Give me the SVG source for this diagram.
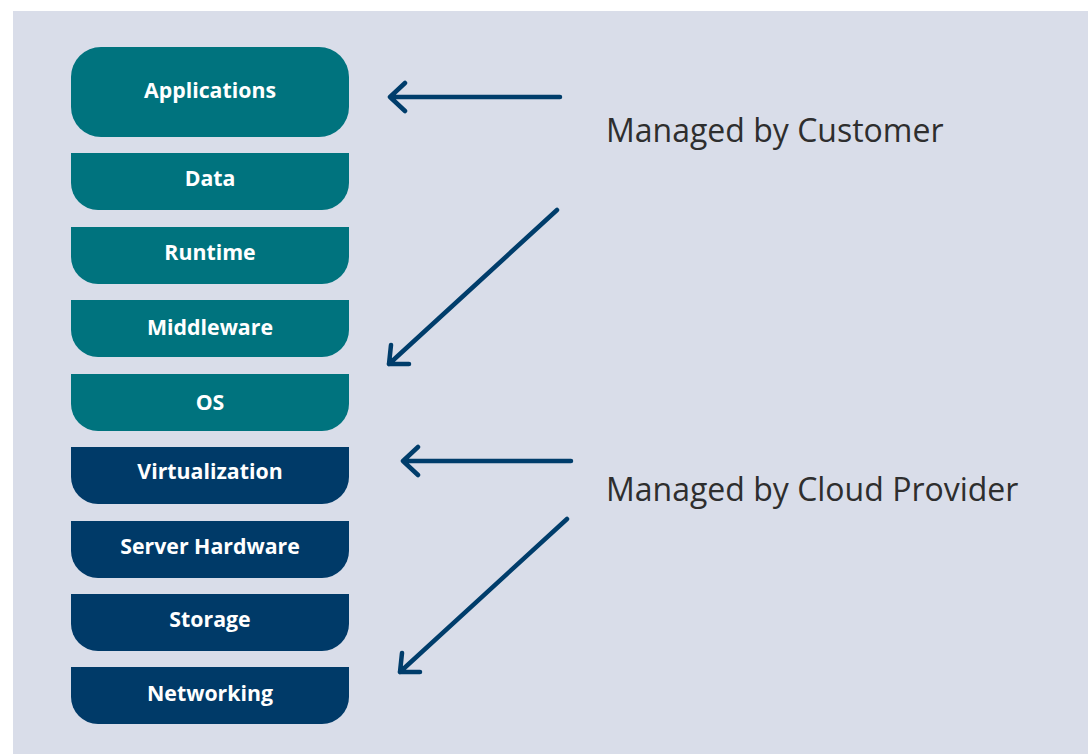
<svg xmlns="http://www.w3.org/2000/svg" width="1088" height="754" viewBox="0 0 1088 754">
  <style>
    .teal { fill: #00737e; }
    .navy { fill: #003a68; }
    .lbl { font-family: "Open Sans", "Noto Sans", sans-serif; font-weight: 700; font-size: 21.3px; fill: #ffffff; text-anchor: middle; }
    .note { font-family: "Open Sans", "Noto Sans", sans-serif; font-size: 32px; fill: #2e2e2e; }
    .arrow { fill: none; stroke: #003d6b; stroke-width: 4.5; stroke-linecap: round; stroke-linejoin: round; }
  </style>
  <rect x="0" y="0" width="1088" height="754" fill="#ffffff"/>
  <rect x="13" y="11" width="1075" height="743" fill="#d9dde9"/>

  <g id="applications">
    <rect class="teal" x="71" y="47" width="278" height="90" rx="30" ry="30"/>
    <text class="lbl" x="210" y="98">Applications</text>
  </g>
  <g id="data">
    <path class="teal" d="M71 153 H349 V183 A27 27 0 0 1 322 210 H98 A27 27 0 0 1 71 183 Z"/>
    <text class="lbl" x="210" y="186">Data</text>
  </g>
  <g id="runtime">
    <path class="teal" d="M71 227 H349 V257 A27 27 0 0 1 322 284 H98 A27 27 0 0 1 71 257 Z"/>
    <text class="lbl" x="210" y="260">Runtime</text>
  </g>
  <g id="middleware">
    <path class="teal" d="M71 300 H349 V330 A27 27 0 0 1 322 357 H98 A27 27 0 0 1 71 330 Z"/>
    <text class="lbl" x="210" y="334.5">Middleware</text>
  </g>
  <g id="os">
    <path class="teal" d="M71 374 H349 V404 A27 27 0 0 1 322 431 H98 A27 27 0 0 1 71 404 Z"/>
    <text class="lbl" x="210" y="410">OS</text>
  </g>
  <g id="virtualization">
    <path class="navy" d="M71 447 H349 V477 A27 27 0 0 1 322 504 H98 A27 27 0 0 1 71 477 Z"/>
    <text class="lbl" x="210" y="479">Virtualization</text>
  </g>
  <g id="server-hardware">
    <path class="navy" d="M71 521 H349 V551 A27 27 0 0 1 322 578 H98 A27 27 0 0 1 71 551 Z"/>
    <text class="lbl" x="210" y="554">Server Hardware</text>
  </g>
  <g id="storage">
    <path class="navy" d="M71 594 H349 V624 A27 27 0 0 1 322 651 H98 A27 27 0 0 1 71 624 Z"/>
    <text class="lbl" x="210" y="626.5">Storage</text>
  </g>
  <g id="networking">
    <path class="navy" d="M71 667 H349 V697 A27 27 0 0 1 322 724 H98 A27 27 0 0 1 71 697 Z"/>
    <text class="lbl" x="210" y="700.5">Networking</text>
  </g>

  <g id="customer-label">
    <text class="note" x="606" y="141.5">Managed by Customer</text>
  </g>
  <g id="provider-label">
    <text class="note" x="606" y="500.5">Managed by Cloud Provider</text>
  </g>

  <g id="connectors">
    <path class="arrow" d="M560 97 H390 M405 83 L390 97 L405 111"/>
    <path class="arrow" d="M557 210 L389 364 M391 345 L389 364 L409 364"/>
    <path class="arrow" d="M571 461 H403 M418 447 L403 461 L418 475"/>
    <path class="arrow" d="M567 519 L400 672 M402 653 L400 672 L420 672"/>
  </g>
</svg>
